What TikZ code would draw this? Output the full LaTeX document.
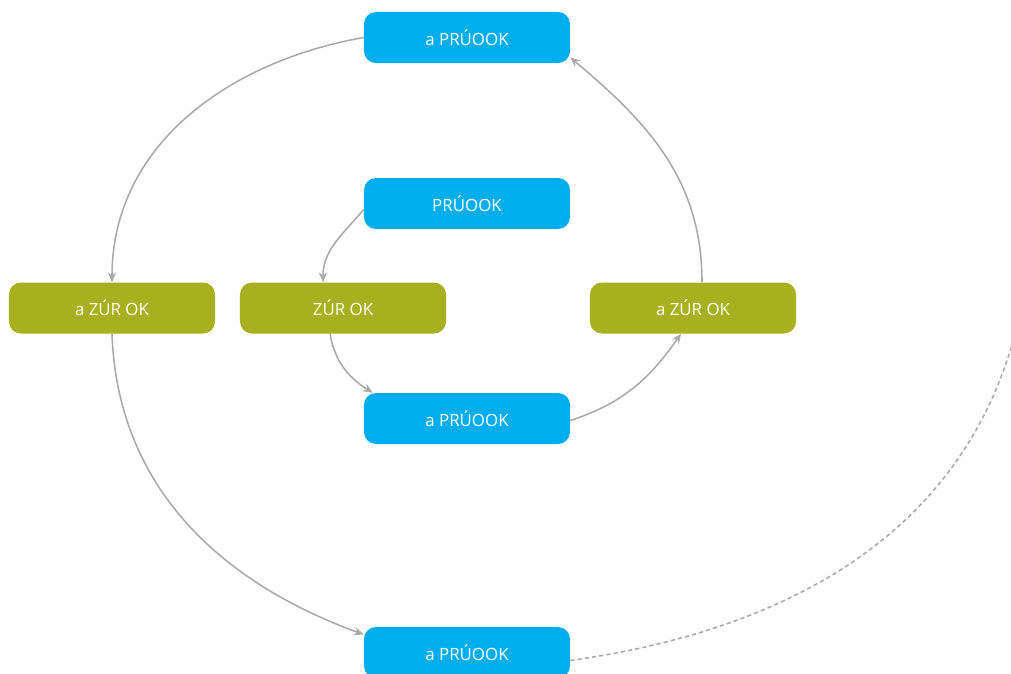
\documentclass[tikz,border=0pt]{standalone}
\usepackage{fontspec}
\setmainfont{Open Sans}
\usetikzlibrary{arrows.meta}
\definecolor{boxblue}{RGB}{0,174,239}
\definecolor{boxgreen}{RGB}{167,176,30}
\definecolor{linegray}{RGB}{170,170,170}
\begin{document}
\begin{tikzpicture}[
  x=0.025cm, y=-0.025cm,
  card/.style={rounded corners=0.3cm, minimum width=5.15cm, minimum height=1.275cm,
    text=white, font=\fontsize{12}{14}\selectfont, inner sep=0pt},
  prbox/.style={card, fill=boxblue},
  zrbox/.style={card, fill=boxgreen},
  flow/.style={draw=linegray, line width=1.1pt, -{Stealth[length=7pt,width=6pt]}},
  loose/.style={draw=linegray, line width=1.1pt, dash pattern=on 3pt off 2.2pt}
]
  \useasboundingbox (0,0) rectangle (1011,673);

  \node[prbox] (p0) at (467, 37.5) {a PRÚOOK};
  \node[prbox] (p1) at (467, 203.5) {PRÚOOK};
  \node[prbox] (p2) at (467, 418.5) {a PRÚOOK};
  \node[prbox] (p3) at (467, 652.5) {a PRÚOOK};

  \node[zrbox] (z0) at (112, 308) {a ZÚR OK};
  \node[zrbox] (z1) at (343, 308) {ZÚR OK};
  \node[zrbox] (z2) at (693, 308) {a ZÚR OK};

  \coordinate (off) at (1019, 318);

  \draw[flow] (p1.west) ++(0,6) to[out=-130, in=90] ([xshift=-0.5cm]z1.north);
  \draw[flow] ([xshift=-0.325cm]z1.south) to[out=-80, in=148] ([xshift=0.225cm]p2.north west);
  \draw[flow] ([yshift=-0.05cm]p2.east) to[out=18, in=-125] ([xshift=-0.3cm]z2.south);
  \draw[flow] ([xshift=0.225cm]z2.north) to[out=90, in=-40] ([yshift=-0.5cm]p0.east);
  \draw[flow] (p0.west) to[out=190, in=90] (z0.north);
  \draw[flow] (z0.south) to[out=-88, in=160] ([yshift=0.45cm]p3.west);
  \draw[loose] ([yshift=-0.2cm]p3.east) to[out=8, in=-103] (off);
\end{tikzpicture}
\end{document}
